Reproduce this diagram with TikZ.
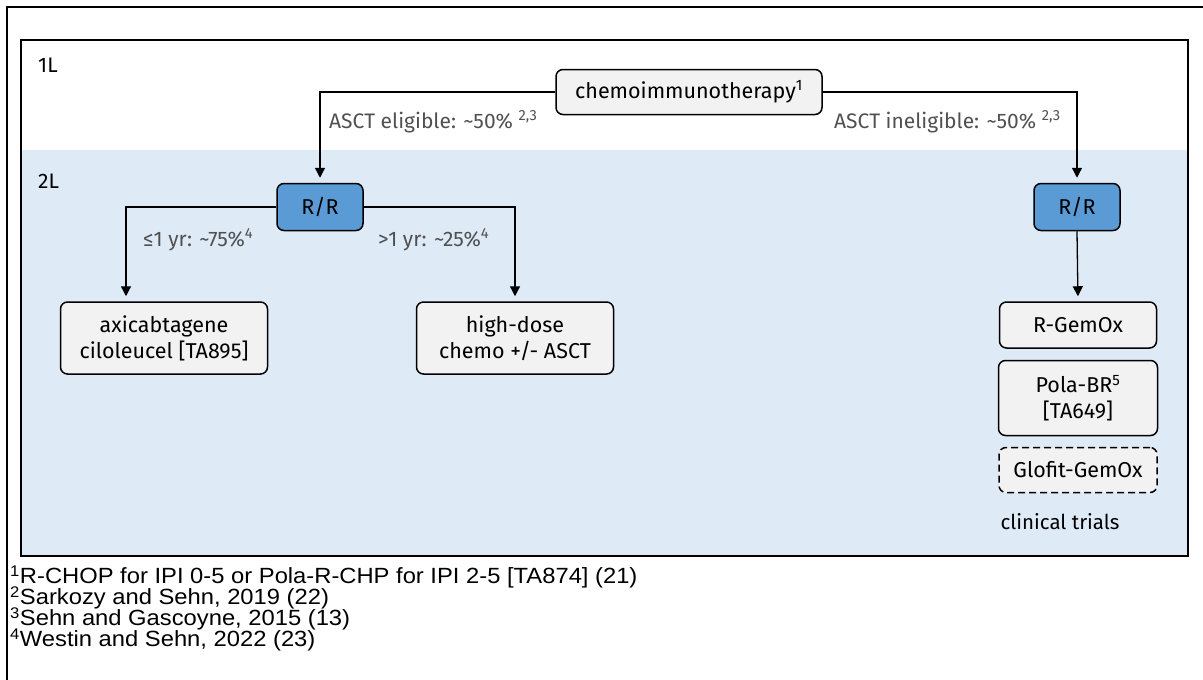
\documentclass[tikz,border=0pt]{standalone}
\usepackage{fontspec}
\setmainfont{Fira Sans}
\newfontfamily\notefont[FakeStretch=1.08]{Liberation Sans}
\usetikzlibrary{arrows.meta,positioning,calc}
\definecolor{bandblue}{HTML}{DEEAF6}
\definecolor{rrblue}{HTML}{5B9BD5}
\definecolor{boxgrey}{HTML}{F2F2F2}
\definecolor{labelgrey}{HTML}{505050}

\begin{document}
\begin{tikzpicture}[x=1pt, y=-1pt,
    treat/.style={draw, rounded corners=7pt, fill=boxgrey, line width=1.5pt, align=center, font=\fontsize{21.5}{26}\selectfont, inner sep=2pt},
    rr/.style={treat, fill=rrblue, minimum width=86pt, minimum height=47pt},
    branch/.style={font=\fontsize{21}{24}\selectfont, text=labelgrey, anchor=west, inner sep=0pt},
    tier/.style={font=\fontsize{21}{24}\selectfont, anchor=west, inner sep=0pt},
    link/.style={line width=1.3pt, -{Triangle[length=10pt,width=10pt]}, shorten >=5pt},
    fnote/.style={anchor=west, font=\notefont\fontsize{22}{22}\selectfont, inner sep=0pt}
]
    \useasboundingbox (0,0) rectangle (1203,680);

    % Frames and treatment-line bands
    \draw[line width=2pt] (7,700) -- (7,7) -- (1220,7);
    \fill[bandblue] (21,150) rectangle (1188,556);
    \draw[line width=2pt] (21,40) rectangle (1188,556);
    \node[tier] (first) at (38,65) {1L};
    \node[tier] (second) at (38,181) {2L};

    % 1L
    \node[treat, minimum width=266pt, minimum height=45pt] (chemo) at (689,92) {chemoimmunotherapy\textsuperscript{1}};

    % 2L, eligible
    \node[rr] (rrleft) at (320,207) {R/R};
    \node[treat, minimum width=207pt, minimum height=72pt] (axi) at (164,338) {axicabtagene\\ciloleucel [TA895]};
    \node[treat, minimum width=197pt, minimum height=72pt] (hdc) at (515,338) {high-dose\\chemo +/- ASCT};

    % 2L, ineligible
    \node[rr] (rrright) at (1077,207) {R/R};
    \node[treat, minimum width=157pt, minimum height=46pt] (gemox) at (1078,325) {R-GemOx};
    \node[treat, minimum width=159pt, minimum height=75pt] (pola) at (1078,398) {Pola-BR\textsuperscript{5}\\{[TA649]}};
    \node[treat, dash pattern=on 7pt off 4pt, minimum width=158pt, minimum height=45pt] (glofit) at (1078,470) {Glofit-GemOx};
    \node[font=\fontsize{20.5}{24}\selectfont] (trials) at (1060,522) {clinical trials};

    % Connectors
    \draw[link] (chemo.west) -| (rrleft.north);
    \draw[link] (chemo.east) -| (rrright.north);
    \draw[link] (rrleft.west) -| ([xshift=-38pt]axi.north);
    \draw[link] (rrleft.east) -| (hdc.north);
    \draw[link] (rrright.south) -- (gemox.north);

    % Branch labels
    \node[branch] (elig) at (329,122) {ASCT eligible: \textasciitilde50\% \textsuperscript{2,3}};
    \node[branch] (inelig) at (834,122) {ASCT ineligible: \textasciitilde50\% \textsuperscript{2,3}};
    \node[branch] (early) at (143,240) {≤1 yr: \textasciitilde75\%\textsuperscript{4}};
    \node[branch] (late) at (378,240) {>1 yr: \textasciitilde25\%\textsuperscript{4}};

    % Footnotes
    \node[fnote] (fn1) at (10,577) {\textsuperscript{1}R-CHOP for IPI 0-5 or Pola-R-CHP for IPI 2-5 [TA874] (21)};
    \node[fnote] (fn2) at (10,598) {\textsuperscript{2}Sarkozy and Sehn, 2019 (22)};
    \node[fnote] (fn3) at (10,619) {\textsuperscript{3}Sehn and Gascoyne, 2015 (13)};
    \node[fnote] (fn4) at (10,640) {\textsuperscript{4}Westin and Sehn, 2022 (23)};
\end{tikzpicture}
\end{document}
